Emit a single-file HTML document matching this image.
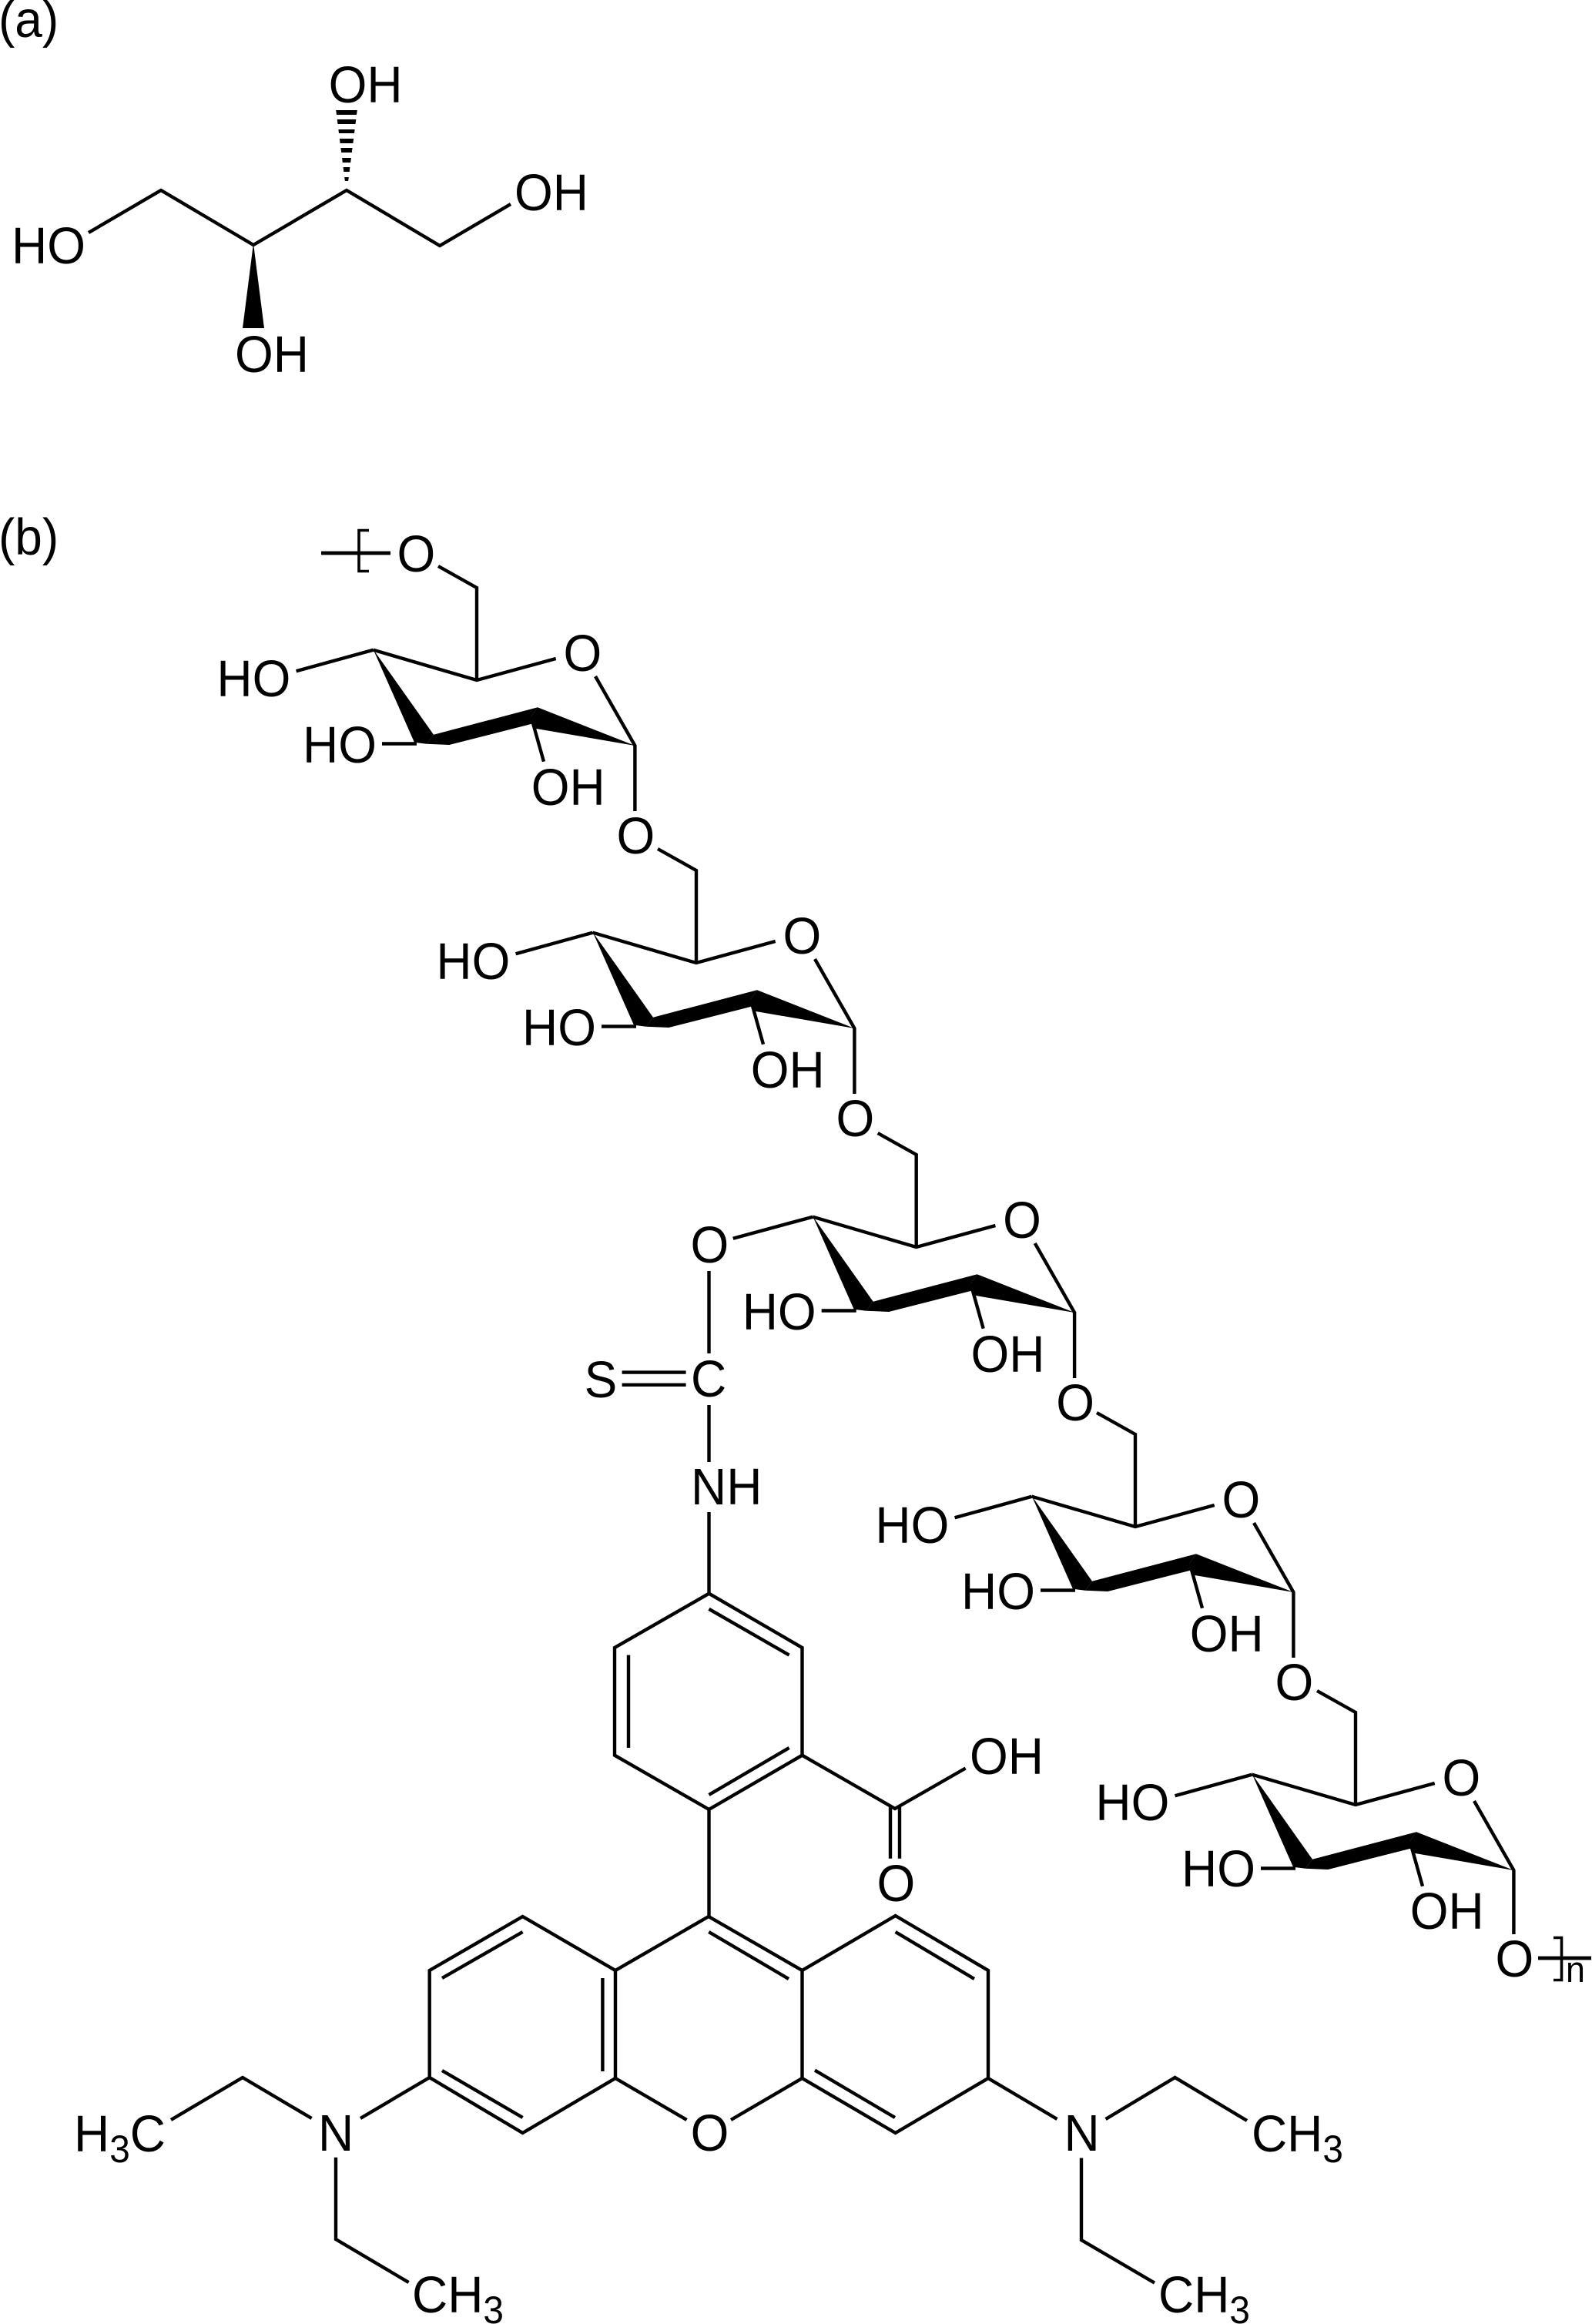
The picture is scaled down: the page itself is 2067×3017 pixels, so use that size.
<!DOCTYPE html>
<html lang="en">
<head>
<meta charset="utf-8">
<title>Structures (a) and (b)</title>
<style>
html,body{margin:0;padding:0;background:#fff;}
svg{display:block;}
text{font-family:"Liberation Sans",Arial,sans-serif;font-size:67px;fill:#000;transform-box:fill-box;transform-origin:0 100%;transform:scaleX(.955);}
.b{fill:none;stroke:#000;stroke-width:4.4;stroke-linejoin:miter;stroke-linecap:butt;}
.f{fill:#000;stroke:none;}
tspan.s{font-size:50px;}
</style>
</head>
<body>
<svg xmlns="http://www.w3.org/2000/svg" width="2067" height="3017" viewBox="0 0 2067 3017">
<rect width="2067" height="3017" fill="#fff"/>

<!-- panel a -->
<text x="-2" y="48">(a)</text>
<polyline class="b" points="115,302 209,247 329,318 450,247 571,319 663,265"/>
<polygon class="f" points="329,316 315,426 343,426"/>
<g class="f">
<polygon points="436.2,143 463.8,143 463,149 437,149"/>
<polygon points="437.7,155 462.3,155 461.5,161 438.5,161"/>
<polygon points="439.4,168 460.6,168 460,173 440,173"/>
<polygon points="440.9,180 459.1,180 458.4,186 441.6,186"/>
<polygon points="442.4,192 457.6,192 456.8,198 443.2,198"/>
<polygon points="444.1,205 455.9,205 455.2,211 444.8,211"/>
<polygon points="445.6,217 454.4,217 453.7,223 446.3,223"/>
<polygon points="447.2,230 452.8,230 452.1,235 447.9,235"/>
</g>
<text x="426.6" y="133">OH</text>
<text x="668" y="273">OH</text>
<text x="305" y="483">OH</text>
<text x="15" y="342">HO</text>

<!-- panel b -->
<text x="-2" y="720">(b)</text>
<line class="b" style="stroke-width:4.8" x1="417" y1="718" x2="507" y2="718"/>
<path class="b" style="stroke-width:3.6" d="M479,688.5H466V741.5H479"/>
<text x="515.5" y="742">O</text>

<!-- unit 1 -->
<g transform="translate(619,883)">
<polyline class="b" points="-134.4,-39.3 0,0 102.7,-28"/>
<polyline class="b" points="-50,-148 0,-120 0,0"/>
<polyline class="b" points="154,-5 205.4,85 205.4,170"/>
<line class="b" x1="-234.4" y1="-11.7" x2="-134.4" y2="-39.3"/>
<line class="b" x1="-123" y1="82.5" x2="-78" y2="82.5"/>
<line class="b" x1="70.6" y1="47.3" x2="87" y2="105.7"/>
<polygon class="f" points="-134.4,-40 -56,70.7 -65,82.7 -81,80.7"/>
<polygon class="f" points="-56,70.7 79,35.3 70.6,47.3 71.4,56.7 -35.7,84 -65,82.7"/>
<polygon class="f" points="79,35.3 205.4,85 76,62.7 70.6,47.3"/>
<text x="112.5" y="-12">O</text>
<text x="-337.6" y="21">HO</text>
<text x="-226" y="107">HO</text>
<text x="70.8" y="162">OH</text>
<text x="181.5" y="225">O</text>
</g>

<!-- unit 2 -->
<g transform="translate(904,1250)">
<polyline class="b" points="-134.4,-39.3 0,0 102.7,-28"/>
<polyline class="b" points="-50,-148 0,-120 0,0"/>
<polyline class="b" points="154,-5 205.4,85 205.4,170"/>
<line class="b" x1="-234.4" y1="-11.7" x2="-134.4" y2="-39.3"/>
<line class="b" x1="-123" y1="82.5" x2="-78" y2="82.5"/>
<line class="b" x1="70.6" y1="47.3" x2="87" y2="105.7"/>
<polygon class="f" points="-134.4,-40 -56,70.7 -65,82.7 -81,80.7"/>
<polygon class="f" points="-56,70.7 79,35.3 70.6,47.3 71.4,56.7 -35.7,84 -65,82.7"/>
<polygon class="f" points="79,35.3 205.4,85 76,62.7 70.6,47.3"/>
<text x="112.5" y="-12">O</text>
<text x="-337.6" y="21">HO</text>
<text x="-226" y="107">HO</text>
<text x="70.8" y="162">OH</text>
<text x="181.5" y="225">O</text>
</g>

<!-- unit 3 -->
<g transform="translate(1189.7,1619)">
<polyline class="b" points="-134.4,-39.3 0,0 102.7,-28"/>
<polyline class="b" points="-50,-148 0,-120 0,0"/>
<polyline class="b" points="154,-5 205.4,85 205.4,170"/>
<line class="b" x1="-237.9" y1="-11.3" x2="-134.4" y2="-39.3"/>
<line class="b" x1="-123" y1="82.5" x2="-78" y2="82.5"/>
<line class="b" x1="70.6" y1="47.3" x2="87" y2="105.7"/>
<polygon class="f" points="-134.4,-40 -56,70.7 -65,82.7 -81,80.7"/>
<polygon class="f" points="-56,70.7 79,35.3 70.6,47.3 71.4,56.7 -35.7,84 -65,82.7"/>
<polygon class="f" points="79,35.3 205.4,85 76,62.7 70.6,47.3"/>
<text x="112.5" y="-12">O</text>
<text x="-226" y="107">HO</text>
<text x="70.8" y="162">OH</text>
<text x="181.5" y="225">O</text>
</g>

<!-- unit 4 -->
<g transform="translate(1474,1982)">
<polyline class="b" points="-134.4,-39.3 0,0 102.7,-28"/>
<polyline class="b" points="-50,-148 0,-120 0,0"/>
<polyline class="b" points="154,-5 205.4,85 205.4,170"/>
<line class="b" x1="-234.4" y1="-11.7" x2="-134.4" y2="-39.3"/>
<line class="b" x1="-123" y1="82.5" x2="-78" y2="82.5"/>
<line class="b" x1="70.6" y1="47.3" x2="87" y2="105.7"/>
<polygon class="f" points="-134.4,-40 -56,70.7 -65,82.7 -81,80.7"/>
<polygon class="f" points="-56,70.7 79,35.3 70.6,47.3 71.4,56.7 -35.7,84 -65,82.7"/>
<polygon class="f" points="79,35.3 205.4,85 76,62.7 70.6,47.3"/>
<text x="112.5" y="-12">O</text>
<text x="-337.6" y="21">HO</text>
<text x="-226" y="107">HO</text>
<text x="70.8" y="162">OH</text>
<text x="181.5" y="225">O</text>
</g>

<!-- unit 5 -->
<g transform="translate(1760,2343)">
<polyline class="b" points="-134.4,-39.3 0,0 102.7,-28"/>
<polyline class="b" points="-50,-148 0,-120 0,0"/>
<polyline class="b" points="154,-5 205.4,85 205.4,168"/>
<line class="b" x1="-234.4" y1="-11.7" x2="-134.4" y2="-39.3"/>
<line class="b" x1="-123" y1="82.5" x2="-78" y2="82.5"/>
<line class="b" x1="70.6" y1="47.3" x2="87" y2="105.7"/>
<polygon class="f" points="-134.4,-40 -56,70.7 -65,82.7 -81,80.7"/>
<polygon class="f" points="-56,70.7 79,35.3 70.6,47.3 71.4,56.7 -35.7,84 -65,82.7"/>
<polygon class="f" points="79,35.3 205.4,85 76,62.7 70.6,47.3"/>
<text x="112.5" y="-12">O</text>
<text x="-337.6" y="20">HO</text>
<text x="-226" y="106">HO</text>
<text x="70.8" y="161">OH</text>
<text x="181.5" y="223">O</text>
</g>
<line class="b" style="stroke-width:4.8" x1="1997" y1="2542" x2="2066" y2="2542"/>
<path class="b" style="stroke-width:3.6" d="M2017,2515.5H2027.5V2570.5H2017"/>
<text x="2033" y="2573" style="font-size:47px">n</text>

<!-- linker -->
<text x="896.5" y="1639">O</text>
<line class="b" x1="920.5" y1="1650" x2="920.5" y2="1757"/>
<text x="758.6" y="1814">S</text>
<line class="b" x1="807.6" y1="1781.6" x2="890.6" y2="1781.6"/>
<line class="b" x1="807.6" y1="1797.8" x2="890.6" y2="1797.8"/>
<text x="897" y="1813">C</text>
<line class="b" x1="920.5" y1="1824" x2="920.5" y2="1898"/>
<text x="897" y="1953">NH</text>
<line class="b" x1="920.5" y1="1963" x2="920.5" y2="2069"/>

<!-- phenyl ring -->
<polygon class="b" points="920.5,2068.7 1041.5,2139 1041.5,2278.7 920.5,2349 798,2278.7 798,2139"/>
<line class="b" x1="920.5" y1="2088.8" x2="1024.6" y2="2148.6"/>
<line class="b" x1="816" y1="2148.6" x2="816" y2="2269"/>
<line class="b" x1="920.5" y1="2330" x2="1024.6" y2="2269"/>
<polyline class="b" points="1041.5,2278.7 1162,2348 1253.6,2295.5"/>
<line class="b" x1="1156" y1="2346" x2="1156" y2="2412.7"/>
<line class="b" x1="1168" y1="2346" x2="1168" y2="2412.7"/>
<text x="1259" y="2303">OH</text>
<text x="1138.5" y="2468">O</text>
<line class="b" x1="920.5" y1="2349" x2="920.5" y2="2488"/>

<!-- xanthene -->
<polygon class="b" points="678.6,2488 799,2558 799,2698 678.6,2769 557.7,2697 557.7,2558"/>
<polygon class="b" points="1041.5,2558 1162.6,2487 1283,2558 1283,2698 1162.6,2769 1041.5,2698"/>
<polyline class="b" points="799,2558 920,2488 1041.5,2558"/>
<line class="b" x1="799" y1="2698" x2="891.6" y2="2752"/>
<line class="b" x1="949" y1="2752" x2="1041.5" y2="2698"/>
<line class="b" x1="574" y1="2568" x2="678.6" y2="2508"/>
<line class="b" x1="574" y1="2688" x2="678.6" y2="2749"/>
<line class="b" x1="782.4" y1="2568" x2="782.4" y2="2689"/>
<line class="b" x1="920.3" y1="2508" x2="1024" y2="2569"/>
<line class="b" x1="1162.6" y1="2508" x2="1265" y2="2569"/>
<line class="b" x1="1058" y1="2687.6" x2="1162" y2="2749"/>
<text x="896.6" y="2792">O</text>

<!-- left amine -->
<line class="b" x1="557.7" y1="2697" x2="468" y2="2750"/>
<polyline class="b" points="404.6,2750 315,2697 222,2752"/>
<polyline class="b" points="436,2800.7 436,2907 530.6,2963"/>
<text x="413" y="2792">N</text>
<text x="96" y="2793">H<tspan class="s" dy="14">3</tspan><tspan dy="-14">C</tspan></text>
<text x="535" y="3002">CH<tspan class="s" dy="14">3</tspan></text>

<!-- right amine -->
<line class="b" x1="1283" y1="2698" x2="1372.5" y2="2751"/>
<polyline class="b" points="1435.6,2751 1525.5,2697 1619,2753"/>
<polyline class="b" points="1404,2801.5 1404,2908 1499,2963.6"/>
<text x="1381.5" y="2792">N</text>
<text x="1625" y="2793">CH<tspan class="s" dy="14">3</tspan></text>
<text x="1504" y="3002">CH<tspan class="s" dy="14">3</tspan></text>
</svg>
</body>
</html>
